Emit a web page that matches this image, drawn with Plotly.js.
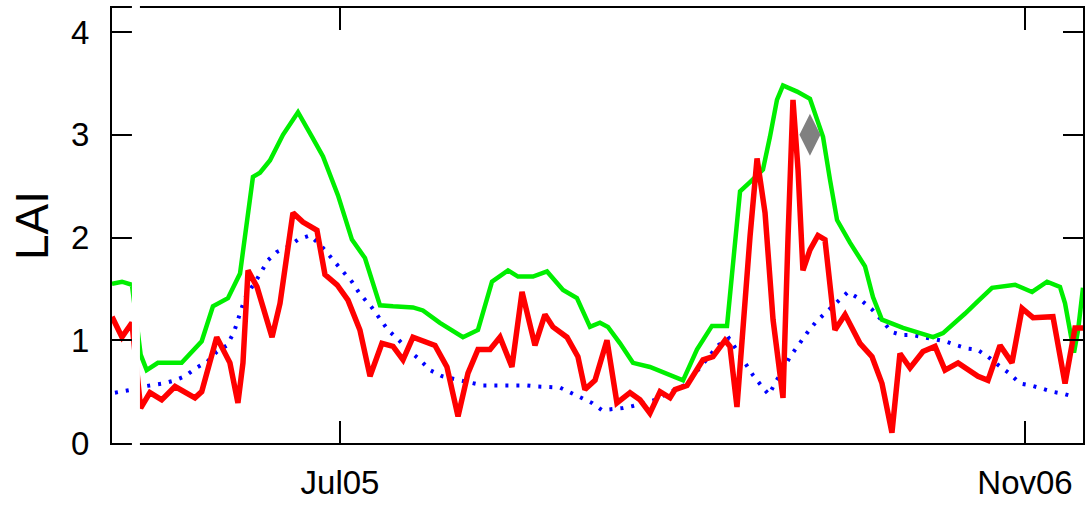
<!DOCTYPE html>
<html>
<head>
<meta charset="utf-8">
<script src="https://cdn.plot.ly/plotly-3.0.1.min.js"></script>
<style>html,body{margin:0;padding:0;background:#fff;}#chart{width:1087px;height:506px;}</style>
</head>
<body>
<div id="chart"></div>
<script>
// x values: day number counted from 1 Jan 2005
var greenDays = [18.6, 25.7, 32.8, 39.0, 43.3, 51.3, 68.2, 76.3, 82.5, 90.5, 101.2, 109.8, 113.3, 116.9, 119, 124, 131.1, 140.4, 151.1, 161.1, 168.9, 179.6, 189.5, 198.8, 209.5, 218.8, 233, 240.1, 252.2, 268.6, 279.3, 289.3, 295, 300.7, 307.8, 318.5, 328.5, 339.9, 349.8, 359.1, 366.2, 371.9, 380.5, 389.7, 401.8, 411.1, 418.2, 425.4, 435.3, 446, 456.7, 458.8, 463.8, 466, 473.1, 482.3, 487.3, 492.3, 496.6, 506.6, 515.8, 525.1, 530.1, 535.1, 544.3, 555, 560.7, 567.1, 582.1, 603.5, 610.6, 619.1, 626.3, 635.5, 645.5, 661.9, 674, 684.7, 693.9, 697.5, 703.9, 706.8, 710.3];
var greenLAI = [1.55, 1.57, 1.54, 0.86, 0.71, 0.78, 0.78, 0.90, 0.99, 1.33, 1.41, 1.65, 2.01, 2.40, 2.59, 2.63, 2.75, 3.00, 3.22, 2.98, 2.79, 2.41, 1.98, 1.80, 1.34, 1.33, 1.32, 1.29, 1.17, 1.03, 1.10, 1.57, 1.62, 1.68, 1.62, 1.62, 1.67, 1.49, 1.41, 1.13, 1.17, 1.13, 0.97, 0.78, 0.74, 0.69, 0.65, 0.61, 0.91, 1.14, 1.14, 1.42, 2.17, 2.45, 2.54, 2.66, 2.98, 3.34, 3.48, 3.42, 3.35, 2.98, 2.56, 2.17, 1.95, 1.72, 1.42, 1.20, 1.12, 1.03, 1.07, 1.17, 1.26, 1.38, 1.51, 1.54, 1.47, 1.57, 1.52, 1.36, 0.88, 1.10, 1.51];

var redDays = [18.6, 25.7, 32.8, 39.0, 45.6, 54, 63.5, 69.2, 77.7, 82.5, 93.2, 102.6, 108.3, 111.9, 115.5, 121.9, 132.6, 138.3, 147.5, 154.6, 164.6, 170.3, 178.9, 186.7, 195.2, 202.4, 210.9, 218.8, 225.9, 233, 248.7, 257.2, 265.1, 272.2, 279.3, 287.9, 295, 303.5, 310.7, 319.9, 327, 332.7, 342.7, 350.5, 355.5, 362.7, 371.2, 378.3, 387.6, 394.7, 401.8, 409, 416.1, 419.7, 428.2, 439.6, 446.7, 455.3, 458.8, 463.8, 468.1, 473.1, 478.1, 483.8, 489.5, 496.6, 500.2, 503.7, 507.3, 510.8, 515.8, 521.5, 526.5, 533.6, 540.8, 551.4, 560, 567.1, 574.2, 579.9, 587.1, 596.3, 604.9, 612, 621.3, 635.5, 642.6, 651.2, 659.7, 666.9, 674.7, 688.9, 697.5, 704.6, 710.3];
var redLAI = [1.23, 1.03, 1.17, 0.34, 0.49, 0.42, 0.55, 0.50, 0.44, 0.50, 1.03, 0.78, 0.39, 0.78, 1.68, 1.52, 1.03, 1.36, 2.24, 2.15, 2.07, 1.64, 1.54, 1.39, 1.10, 0.65, 0.97, 0.94, 0.81, 1.03, 0.95, 0.74, 0.26, 0.68, 0.91, 0.91, 1.03, 0.74, 1.47, 0.95, 1.25, 1.13, 1.03, 0.84, 0.52, 0.61, 1.00, 0.39, 0.49, 0.42, 0.29, 0.50, 0.44, 0.52, 0.56, 0.81, 0.84, 1.00, 0.94, 0.35, 1.17, 2.01, 2.77, 2.24, 1.20, 0.44, 2.01, 3.34, 2.66, 1.68, 1.88, 2.02, 1.98, 1.10, 1.25, 0.97, 0.84, 0.58, 0.10, 0.87, 0.73, 0.89, 0.94, 0.71, 0.78, 0.65, 0.61, 0.95, 0.78, 1.31, 1.22, 1.23, 0.58, 1.12, 1.12];

var blueDays = [20.7, 25.7, 32.8, 40.7, 47.8, 55.6, 63.5, 70.6, 78.4, 86.3, 93.4, 100.5, 105.5, 108.3, 113.3, 118.3, 120.4, 124.6, 129.8, 136.1, 144, 151.1, 159.6, 168.2, 175.3, 182.4, 189.5, 195.2, 203.1, 208.8, 215.2, 223.7, 230.9, 238, 245.1, 253.7, 260.8, 268.6, 275.7, 282.9, 314.2, 321.3, 337.7, 344.9, 353.4, 360.5, 367.6, 374.8, 382.6, 389.7, 398.3, 405.4, 412.5, 419.7, 428.9, 436, 443.2, 450.3, 458.1, 464.5, 469.5, 475.2, 481.6, 486.6, 491.6, 496.6, 501.6, 507.3, 513.7, 520.1, 527.9, 535.1, 542.9, 551.4, 560, 567.1, 574.2, 581.4, 589.2, 596.3, 604.9, 612, 620.6, 627.7, 634.8, 642.6, 649.8, 657.6, 665.4, 673.3, 681.1, 688.2, 696.1, 703.9];
var blueLAI = [0.49, 0.50, 0.52, 0.55, 0.56, 0.58, 0.61, 0.65, 0.73, 0.79, 0.89, 0.95, 1.08, 1.20, 1.41, 1.52, 1.56, 1.66, 1.78, 1.86, 1.91, 1.98, 2.02, 1.91, 1.79, 1.68, 1.57, 1.45, 1.33, 1.22, 1.10, 0.99, 0.89, 0.81, 0.71, 0.65, 0.63, 0.60, 0.58, 0.56, 0.56, 0.55, 0.54, 0.49, 0.44, 0.39, 0.32, 0.33, 0.34, 0.36, 0.39, 0.42, 0.47, 0.52, 0.58, 0.71, 0.83, 0.95, 1.02, 0.89, 0.78, 0.66, 0.55, 0.47, 0.60, 0.71, 0.84, 0.95, 1.07, 1.18, 1.28, 1.38, 1.47, 1.40, 1.30, 1.19, 1.08, 1.05, 1.05, 1.03, 1.01, 0.99, 0.95, 0.92, 0.91, 0.84, 0.76, 0.68, 0.58, 0.56, 0.53, 0.50, 0.48, 0.45];

var markerDay = [515.8];
var markerLAI = [3.0];

var tickDays = [181, 669];
var tickLabels = ['Jul05', 'Nov06'];
var yTicks = [0, 1, 2, 3, 4];

var traces = [
  {x: blueDays, y: blueLAI, type: 'scatter', mode: 'lines', line: {color: '#0000ff', width: 4, dash: '3px,8px'}, hoverinfo: 'skip'},
  {x: greenDays, y: greenLAI, type: 'scatter', mode: 'lines', line: {color: '#00ee00', width: 4.5}, hoverinfo: 'skip'},
  {x: redDays, y: redLAI, type: 'scatter', mode: 'lines', line: {color: '#ff0000', width: 5.5}, hoverinfo: 'skip'},
  {x: markerDay, y: markerLAI, type: 'scatter', mode: 'markers', marker: {symbol: 'diamond-tall', size: 30, color: '#808080'}, hoverinfo: 'skip'}
];

var layout = {
  width: 1087, height: 506,
  margin: {l: 112, r: 4, t: 8, b: 63},
  paper_bgcolor: '#fff', plot_bgcolor: '#fff',
  showlegend: false,
  font: {family: 'Liberation Sans, Arial, sans-serif', color: '#000'},
  xaxis: {
    range: [18.6, 710.3], showgrid: false, zeroline: false,
    showline: true, linecolor: '#000', linewidth: 2, mirror: 'allticks',
    ticks: 'inside', ticklen: 22, tickwidth: 2, tickcolor: '#000',
    tickmode: 'array', tickvals: tickDays, ticktext: tickLabels,
    tickfont: {size: 33, family: 'Liberation Sans, Arial, sans-serif'},
    ticklabelstandoff: 9
  },
  yaxis: {
    range: [0, 4.234], showgrid: false, zeroline: false,
    showline: true, linecolor: '#000', linewidth: 2, mirror: 'allticks',
    ticks: 'inside', ticklen: 20, tickwidth: 2, tickcolor: '#000',
    tickmode: 'array', tickvals: yTicks,
    tickfont: {size: 33, family: 'Liberation Sans, Arial, sans-serif'},
    ticklabelstandoff: 14,
    title: {text: 'LAI', font: {size: 46, family: 'Liberation Sans, Arial, sans-serif'}, standoff: 8}
  },
  shapes: [
    {type: 'rect', xref: 'x', yref: 'paper', x0: 32.8, x1: 38.5, y0: -0.03, y1: 1.03,
     fillcolor: '#fff', line: {width: 0}, layer: 'above'}
  ]
};

Plotly.newPlot('chart', traces, layout, {staticPlot: true, displayModeBar: false});
</script>
</body>
</html>
